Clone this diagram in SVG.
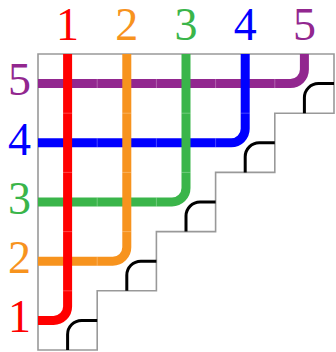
<svg xmlns="http://www.w3.org/2000/svg" width="336" height="352" viewBox="0 0 336 352">
<style>
.lbl{font-family:"Liberation Serif","Times New Roman",serif;font-size:46px;text-anchor:middle}
.wire{fill:none;stroke-width:9;stroke-linecap:butt}
.seam{stroke:#ffffff;stroke-opacity:0.35;stroke-width:0.8}
.frame{fill:#ffffff;stroke:#999999;stroke-width:1.6}
.tile{fill:none;stroke:#000000;stroke-width:3}
</style>
<rect width="336" height="352" fill="#ffffff"/>
<g id="frame">
<path class="frame" d="M38,54 H334 V113.2 H274.8 V172.4 H215.6 V231.6 H156.4 V290.8 H97.2 V350 H38 Z"/>
</g>
<g id="tiles">
<path class="tile" d="M304.4,113.2 V97.6 A14,14 0 0 1 318.4,83.6 H334"/>
<path class="tile" d="M245.2,172.4 V156.8 A14,14 0 0 1 259.2,142.8 H274.8"/>
<path class="tile" d="M186,231.6 V216 A14,14 0 0 1 200,202 H215.6"/>
<path class="tile" d="M126.8,290.8 V275.2 A14,14 0 0 1 140.8,261.2 H156.4"/>
<path class="tile" d="M67.6,350 V334.4 A14,14 0 0 1 81.6,320.4 H97.2"/>
</g>
<g id="connectors">
<g id="wire5">
<path class="wire" stroke="#92278f" d="M304.4,54 V69.6 A14,14 0 0 1 290.4,83.6 H38"/>
<path class="seam" d="M97.2,79.1 V88.1 M156.4,79.1 V88.1 M215.6,79.1 V88.1 M274.8,79.1 V88.1"/>
</g>
<g id="wire4">
<path class="wire" stroke="#0000ff" d="M245.2,54 V128.8 A14,14 0 0 1 231.2,142.8 H38"/>
<path class="seam" d="M97.2,138.3 V147.3 M156.4,138.3 V147.3 M215.6,138.3 V147.3 M240.7,113.2 H249.7"/>
</g>
<g id="wire3">
<path class="wire" stroke="#3ab54a" d="M186,54 V188 A14,14 0 0 1 172,202 H38"/>
<path class="seam" d="M97.2,197.5 V206.5 M156.4,197.5 V206.5 M181.5,113.2 H190.5 M181.5,172.4 H190.5"/>
</g>
<g id="wire2">
<path class="wire" stroke="#f7931e" d="M126.8,54 V247.2 A14,14 0 0 1 112.8,261.2 H38"/>
<path class="seam" d="M97.2,256.7 V265.7 M122.3,113.2 H131.3 M122.3,172.4 H131.3 M122.3,231.6 H131.3"/>
</g>
<g id="wire1">
<path class="wire" stroke="#ff0000" d="M67.6,54 V306.4 A14,14 0 0 1 53.6,320.4 H38"/>
<path class="seam" d="M63.1,113.2 H72.1 M63.1,172.4 H72.1 M63.1,231.6 H72.1 M63.1,290.8 H72.1"/>
</g>
</g>
<g id="top-labels">
<text class="lbl" x="67.6" y="40" fill="#ff0000">1</text>
<text class="lbl" x="126.8" y="40" fill="#f7931e">2</text>
<text class="lbl" x="186" y="40" fill="#3ab54a">3</text>
<text class="lbl" x="245.2" y="40" fill="#0000ff">4</text>
<text class="lbl" x="304.4" y="40" fill="#92278f">5</text>
</g>
<g id="left-labels">
<text class="lbl" x="19.5" y="95.3" fill="#92278f">5</text>
<text class="lbl" x="19.5" y="154.5" fill="#0000ff">4</text>
<text class="lbl" x="19.5" y="213.7" fill="#3ab54a">3</text>
<text class="lbl" x="19.5" y="272.9" fill="#f7931e">2</text>
<text class="lbl" x="19.5" y="332.1" fill="#ff0000">1</text>
</g>
</svg>
